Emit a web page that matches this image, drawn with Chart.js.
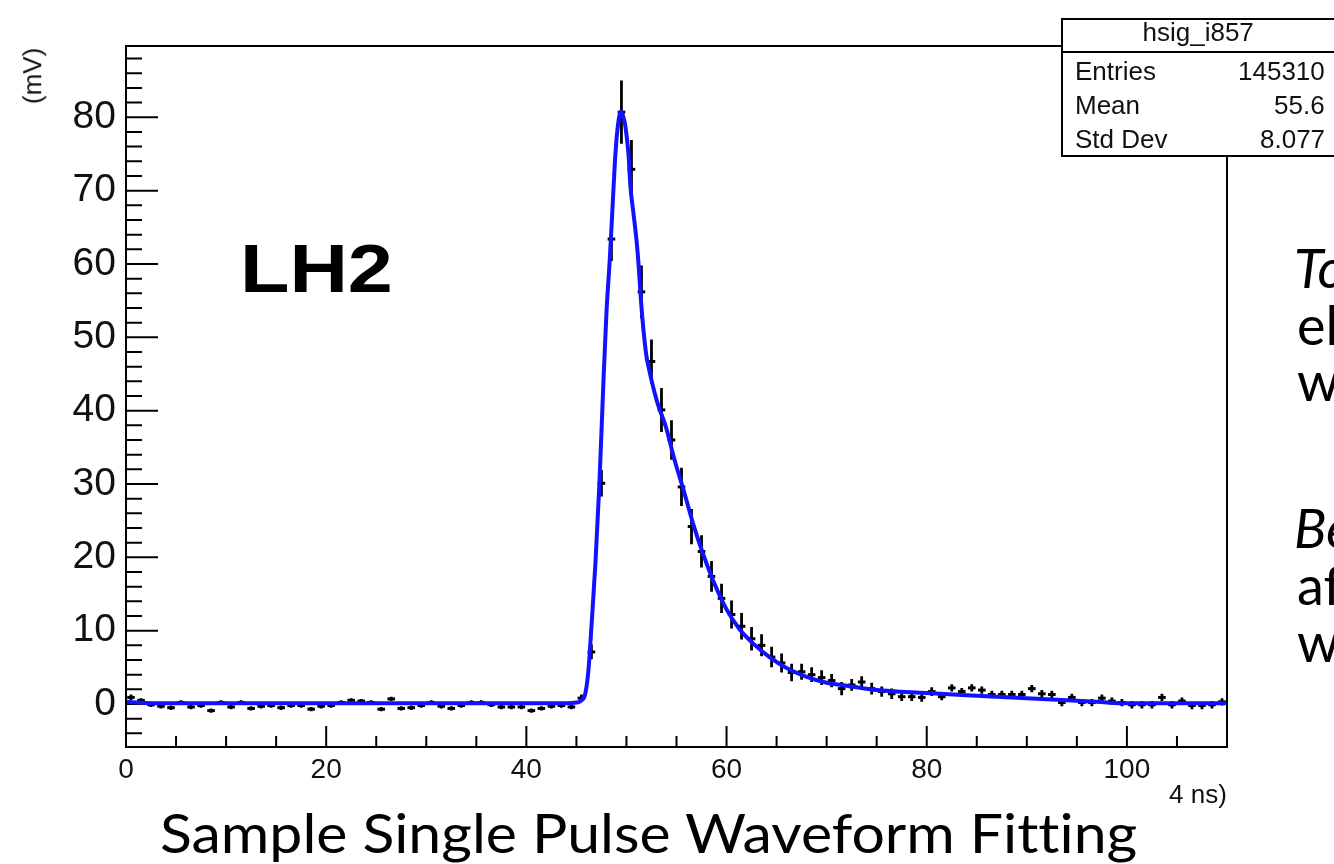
<!DOCTYPE html>
<html><head><meta charset="utf-8">
<script src="https://cdn.jsdelivr.net/npm/chart.js@4.4.1/dist/chart.umd.min.js"></script>
<style>
html,body{margin:0;padding:0;background:#fff;overflow:hidden;}
#wrap{position:relative;width:1334px;height:864px;overflow:hidden;background:#fff;}
#c{position:absolute;left:0;top:0;display:block;}
.t{position:absolute;white-space:nowrap;color:#000;line-height:1.15;}
.root{font-family:"Liberation Sans",Arial,sans-serif;color:#111;}
.slide{font-family:Lato,"Open Sans",sans-serif;color:#000;font-variant-ligatures:none;font-feature-settings:"liga" 0,"clig" 0;}
#stbox{position:absolute;left:1061px;top:18px;width:300px;height:139px;border:2px solid #000;background:#fff;box-sizing:border-box;}
#stsep{position:absolute;left:1061px;top:51px;width:300px;height:2px;background:#000;}
</style></head>
<body><div id="wrap">
<canvas id="c" width="1334" height="864"></canvas>
<div id="stbox"></div><div id="stsep"></div>
<div class="t root" id="sTitle" style="font-size:26px">hsig_i857</div>
<div class="t root" id="sL1" style="font-size:26px">Entries</div>
<div class="t root" id="sV1" style="font-size:26px">145310</div>
<div class="t root" id="sL2" style="font-size:26px">Mean</div>
<div class="t root" id="sV2" style="font-size:26px">55.6</div>
<div class="t root" id="sL3" style="font-size:26px">Std Dev</div>
<div class="t root" id="sV3" style="font-size:26px">8.077</div>
<div class="t root" id="ylab" style="font-size:26px">(mV)</div>
<div class="t root" id="xlab" style="font-size:26px">4 ns)</div>
<div class="t root" id="lh2" style="font-size:68px;font-weight:bold;color:#000">LH2</div>
<div class="t slide" id="r1" style="font-size:54px;font-style:italic">To</div>
<div class="t slide" id="r2" style="font-size:54px">el</div>
<div class="t slide" id="r3" style="font-size:54px">w</div>
<div class="t slide" id="r4" style="font-size:54px;font-style:italic">Be</div>
<div class="t slide" id="r5" style="font-size:54px">af</div>
<div class="t slide" id="r6" style="font-size:54px">w</div>
<div class="t slide" id="cap" style="font-size:54px">Sample Single Pulse Waveform Fitting</div>
</div>
<script>
// ---------------- data ----------------
const binLow = 0;      // first bin edge (samples of 4 ns)
const binWidth = 1;    // one sample per bin
const pulseValues = [
  0.9, 0.5,-0.1,-0.3,-0.5, 0.2,-0.4,-0.2,-0.9, 0.2,
 -0.4, 0.2,-0.6,-0.3,-0.2,-0.5,-0.2,-0.2,-0.7,-0.3,
 -0.2, 0.2, 0.5, 0.4, 0.2,-0.7, 0.7,-0.6,-0.5,-0.2,
  0.2,-0.3,-0.6,-0.2, 0.2, 0.2,-0.1,-0.4,-0.4,-0.4,
 -0.9,-0.6,-0.3,-0.2,-0.4, 0.8, 7.1,30.1,63.4,80.7,
 72.9,56.2,46.7,40.1,36.0,29.6,24.2,20.8,17.4,14.4,
 12.2,10.6, 8.9, 8.0, 6.4, 5.6, 4.3, 4.4, 4.0, 3.6,
  3.2, 2.1, 2.6, 3.0, 2.1, 1.7, 1.4, 1.0, 1.0, 0.9,
  1.7, 1.0, 2.2, 1.7, 2.2, 1.9, 1.3, 1.3, 1.3, 1.3,
  2.1, 1.4, 1.3, 0.2, 0.9, 0.2, 0.2, 0.8, 0.4, 0.2,
 -0.1,-0.1,-0.1, 0.9,-0.1, 0.4,-0.2,-0.2,-0.1, 0.3
];
const pulseErrors = [
  0.4, 0.3, 0.3, 0.3, 0.3, 0.3, 0.3, 0.3, 0.3, 0.3,
  0.3, 0.3, 0.3, 0.3, 0.3, 0.3, 0.3, 0.3, 0.3, 0.3,
  0.3, 0.3, 0.3, 0.3, 0.3, 0.3, 0.3, 0.3, 0.3, 0.3,
  0.3, 0.3, 0.3, 0.3, 0.3, 0.3, 0.3, 0.3, 0.3, 0.3,
  0.3, 0.3, 0.3, 0.3, 0.3, 0.5, 1.0, 1.8, 3.0, 4.3,
  4.0, 3.6, 3.0, 3.0, 2.7, 2.6, 2.4, 2.2, 2.1, 2.0,
  1.9, 1.8, 1.6, 1.5, 1.4, 1.3, 1.2, 1.1, 1.0, 1.0,
  0.9, 0.9, 0.8, 0.8, 0.8, 0.7, 0.7, 0.6, 0.6, 0.6,
  0.6, 0.5, 0.5, 0.5, 0.5, 0.5, 0.5, 0.5, 0.5, 0.5,
  0.5, 0.5, 0.5, 0.5, 0.5, 0.5, 0.5, 0.5, 0.5, 0.5,
  0.5, 0.5, 0.5, 0.5, 0.5, 0.5, 0.5, 0.5, 0.5, 0.5
];
const fitTimes = [0,2,5,10,20,30,40,44,45,45.4,45.9,46.2,46.5,46.9,47.3,47.7,
  48.0,48.35,48.6,48.85,49.1,49.45,49.7,49.9,50.2,50.4,50.7,51.0,51.2,51.45,51.7,52.0,
  52.2,53.0,54.0,54.8,55.7,56.7,57.7,58.7,60,61.3,62.7,64,66,68,70,72,
  75,80,84,87,90,94,97,100,105,110];
const fitValues = [0.3,0.15,0.1,0.1,0.1,0.1,0.1,0.1,0.2,0.4,1.5,4.6,10.5,19.2,30.1,44,
  53.3,61,67.5,74,78.3,80.8,80.0,78.7,75,70.5,66.9,63.3,60.1,55,51,47.4,
  46,41.5,37.5,33.3,29.2,24.4,20.3,16.7,12.9,10.2,8.2,6.7,4.9,3.7,2.9,2.5,
  1.9,1.5,1.2,1.0,0.8,0.5,0.3,0.1,0.1,0.1];
const xTickLabels = [0,20,40,60,80,100];
const yTickLabels = [0,10,20,30,40,50,60,70,80];
const xRange = [0,110];
const yRange = [-5.86,89.72];

// ---------------- chart ----------------
const pointData = pulseValues.map((v,i)=>({x: binLow + (i+0.5)*binWidth, y: v}));
const fitData = fitTimes.map((t,i)=>({x:t, y:fitValues[i]}));

const errBars = {
  id:'errBars',
  afterDatasetDraw(chart, args){
    if (args.index !== 1) return;
    const {ctx, chartArea:a} = chart, ys = chart.scales.y;
    ctx.save();
    ctx.beginPath(); ctx.rect(a.left,a.top,a.right-a.left,a.bottom-a.top); ctx.clip();
    ctx.strokeStyle = '#000'; ctx.lineWidth = 2.8;
    ctx.beginPath();
    args.meta.data.forEach((pt,i)=>{
      const v = pulseValues[i], e = pulseErrors[i];
      ctx.moveTo(pt.x, ys.getPixelForValue(v+e));
      ctx.lineTo(pt.x, ys.getPixelForValue(v-e));
    });
    ctx.stroke(); ctx.restore();
  }
};
const frame = {
  id:'frame',
  beforeDatasetsDraw(chart){
    const {ctx, chartArea:a, scales:{x,y}} = chart;
    ctx.save(); ctx.strokeStyle='#000'; ctx.lineWidth=2;
    ctx.beginPath();
    for (let v=xRange[0]; v<=xRange[1]; v+=5){
      const px = x.getPixelForValue(v), len = (v%20===0)?21:11;
      ctx.moveTo(px,a.bottom); ctx.lineTo(px,a.bottom-len);
    }
    for (let v=-4; v<=88; v+=2){
      const py = y.getPixelForValue(v), len = (v%10===0)?32:16;
      ctx.moveTo(a.left,py); ctx.lineTo(a.left+len,py);
    }
    ctx.stroke();
    ctx.strokeRect(a.left,a.top,a.right-a.left,a.bottom-a.top);
    ctx.restore();
  },
  afterDatasetsDraw(chart){
    const {ctx, chartArea:a} = chart;
    ctx.save(); ctx.strokeStyle='#000'; ctx.lineWidth=2;
    ctx.strokeRect(a.left,a.top,a.right-a.left,a.bottom-a.top);
    ctx.restore();
  }
};

new Chart(document.getElementById('c'), {
  type:'scatter',
  data:{datasets:[
    {label:'fit', data:fitData, showLine:true, borderColor:'rgb(18,18,255)', borderWidth:4,
     pointRadius:0, cubicInterpolationMode:'monotone', order:0},
    {label:'hsig_i857', data:pointData, showLine:false, pointStyle:'line', pointRadius:3.8,
     borderColor:'#000', backgroundColor:'#000', borderWidth:3, order:1}
  ]},
  options:{
    responsive:false, animation:false, events:[],
    layout:{padding:{left:0, top:46, right:107, bottom:0}},
    plugins:{legend:{display:false}, tooltip:{enabled:false}},
    scales:{
      x:{type:'linear', min:xRange[0], max:xRange[1],
         afterBuildTicks:s=>{s.ticks = xTickLabels.map(v=>({value:v}));},
         afterFit:s=>{s.height = 117;},
         grid:{display:false, drawTicks:false, tickLength:0}, border:{display:false},
         ticks:{color:'#111', padding:6, maxRotation:0, autoSkip:false,
                font:{family:'"Liberation Sans", Arial, sans-serif', size:28}}},
      y:{type:'linear', min:yRange[0], max:yRange[1],
         afterBuildTicks:s=>{s.ticks = yTickLabels.map(v=>({value:v}));},
         afterFit:s=>{s.width = 126;},
         grid:{display:false, drawTicks:false, tickLength:0}, border:{display:false},
         ticks:{color:'#111', padding:10, autoSkip:false,
                font:{family:'"Liberation Sans", Arial, sans-serif', size:39}}}
    }
  },
  plugins:[frame, errBars]
});

// ---------------- text placement ----------------
function place(id, x, base, align, sx, target){
  const el = document.getElementById(id);
  const p = document.createElement('i');
  p.style.cssText = 'display:inline-block;width:0;height:0;vertical-align:baseline';
  el.appendChild(p);
  const off = p.offsetTop, w = el.offsetWidth;
  let s = 1;
  if (sx === 'fit') s = target / w; else if (sx) s = sx;
  if (s !== 1){ el.style.transformOrigin = '0px '+off+'px'; el.style.transform = 'scaleX('+s+')'; }
  const ww = w*s;
  el.style.left = (align==='right' ? x-ww : align==='center' ? x-ww/2 : x) + 'px';
  el.style.top = (base-off) + 'px';
}
function layout(){
  place('sTitle', 1198, 41, 'center');
  place('sL1', 1075, 79.5, 'left');  place('sV1', 1325, 79.5, 'right');
  place('sL2', 1075, 114, 'left');   place('sV2', 1325, 114, 'right');
  place('sL3', 1075, 148, 'left');   place('sV3', 1325, 148, 'right');
  place('xlab', 1227, 803, 'right');
  place('lh2', 240, 292, 'left', 1.19);
  place('r1', 1294, 288, 'left'); place('r2', 1297, 345, 'left'); place('r3', 1297, 401, 'left');
  place('r4', 1294, 548, 'left'); place('r5', 1297, 605, 'left'); place('r6', 1297, 662, 'left');
  place('cap', 160, 853, 'left', 'fit', 977);
  const yl = document.getElementById('ylab');
  const w = yl.offsetWidth, h = yl.offsetHeight;
  yl.style.left = (33 - w/2)+'px'; yl.style.top = (76 - h/2)+'px';
  yl.style.transform = 'rotate(-90deg)';
}
layout();
</script>
</body></html>
